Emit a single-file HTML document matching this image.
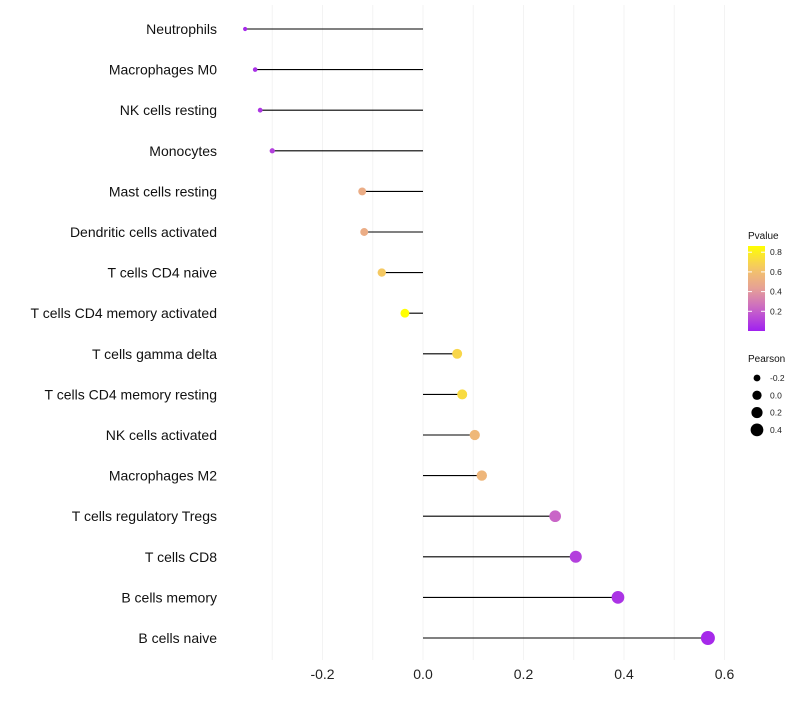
<!DOCTYPE html>
<html><head><meta charset="utf-8"><style>
body{margin:0;background:#fff;font-family:"Liberation Sans",sans-serif}
svg text{font-family:"Liberation Sans",sans-serif}
</style></head><body>
<svg id="chart" width="800" height="700"></svg>
<script>
const categories=["Neutrophils","Macrophages M0","NK cells resting","Monocytes","Mast cells resting","Dendritic cells activated","T cells CD4 naive","T cells CD4 memory activated","T cells gamma delta","T cells CD4 memory resting","NK cells activated","Macrophages M2","T cells regulatory  Tregs ","T cells CD8","B cells memory","B cells naive"];
const pearson=[-0.354,-0.334,-0.324,-0.300,-0.121,-0.117,-0.082,-0.036,0.068,0.078,0.103,0.117,0.263,0.304,0.388,0.567];
const pvalue=[0.03,0.05,0.07,0.1,0.5,0.5,0.65,0.88,0.7,0.72,0.56,0.55,0.22,0.1,0.06,0.03];
const xTicks=[-0.2,0,0.2,0.4,0.6];
const pTicks=[0.2,0.4,0.6,0.8];
const sizeTicks=[-0.2,0,0.2,0.4];
const NS="http://www.w3.org/2000/svg";
const svg=document.getElementById('chart');
function el(t,a,p){const e=document.createElementNS(NS,t);for(const k in a)e.setAttribute(k,a[k]);(p||svg).appendChild(e);return e;}
const x=v=>423+v*502.5;
const y=i=>29+i*40.6;
const r=v=>Math.sqrt(4+Math.max(0,v+0.36)/0.93*45);
function lerp(a,b,t){return a.map((c,i)=>Math.round(c+(b[i]-c)*t));}
function col(p){const t=Math.max(0,Math.min(1,p/0.86));const s=[[160,32,240],[200,100,200],[230,160,150],[245,200,100],[255,255,0]];const f=t*4,i=Math.min(3,Math.floor(f));const c=lerp(s[i],s[i+1],f-i);return `rgb(${c})`;}
for(let v=-0.3;v<=0.61;v+=0.1){const g=el('line',{x1:x(v),x2:x(v),y1:5,y2:660,stroke:'#f3f3f3','stroke-width':1});}
xTicks.forEach(v=>{const t=el('text',{x:x(v),y:679,'text-anchor':'middle','font-size':14,fill:'#222'});t.textContent=v===0?'0.0':v.toFixed(1);});
categories.forEach((c,i)=>{
 const t=el('text',{x:217,y:y(i)+5,'text-anchor':'end','font-size':14,fill:'#111'});t.textContent=c;
 
 const l=el('line',{x1:x(0),x2:x(pearson[i]),y1:y(i),y2:y(i),stroke:'#000','stroke-width':1.1});
 
 const d=el('circle',{cx:x(pearson[i]),cy:y(i),r:r(pearson[i]),fill:col(pvalue[i])});
 
});
const defs=el('defs',{});const lg=el('linearGradient',{id:'pg',x1:0,y1:1,x2:0,y2:0},defs);
for(let k=0;k<=10;k++){el('stop',{offset:k/10,'stop-color':col(k/10*0.86)},lg);}
let t=el('text',{x:748,y:239,'font-size':10,fill:'#111'});t.textContent='Pvalue';
const cb=el('rect',{x:748,y:246,width:17,height:85,fill:'url(#pg)'});
const py=p=>331-p*98.5;
pTicks.forEach(p=>{el('line',{x1:748,x2:752,y1:py(p),y2:py(p),stroke:'#fff'});el('line',{x1:761,x2:765,y1:py(p),y2:py(p),stroke:'#fff'});const a=el('text',{x:770,y:py(p)+3,'font-size':8.5,fill:'#222'});a.textContent=p.toFixed(1);});
t=el('text',{x:748,y:362,'font-size':10,fill:'#111'});t.textContent='Pearson';
sizeTicks.forEach((s,i)=>{const cy=378+i*17.3;const c=el('circle',{cx:757,cy:cy,r:r(s),fill:'#000'});const a=el('text',{x:770,y:cy+3,'font-size':8.5,fill:'#222'});a.textContent=s===0?'0.0':s.toFixed(1);});
</script>
</body></html>
